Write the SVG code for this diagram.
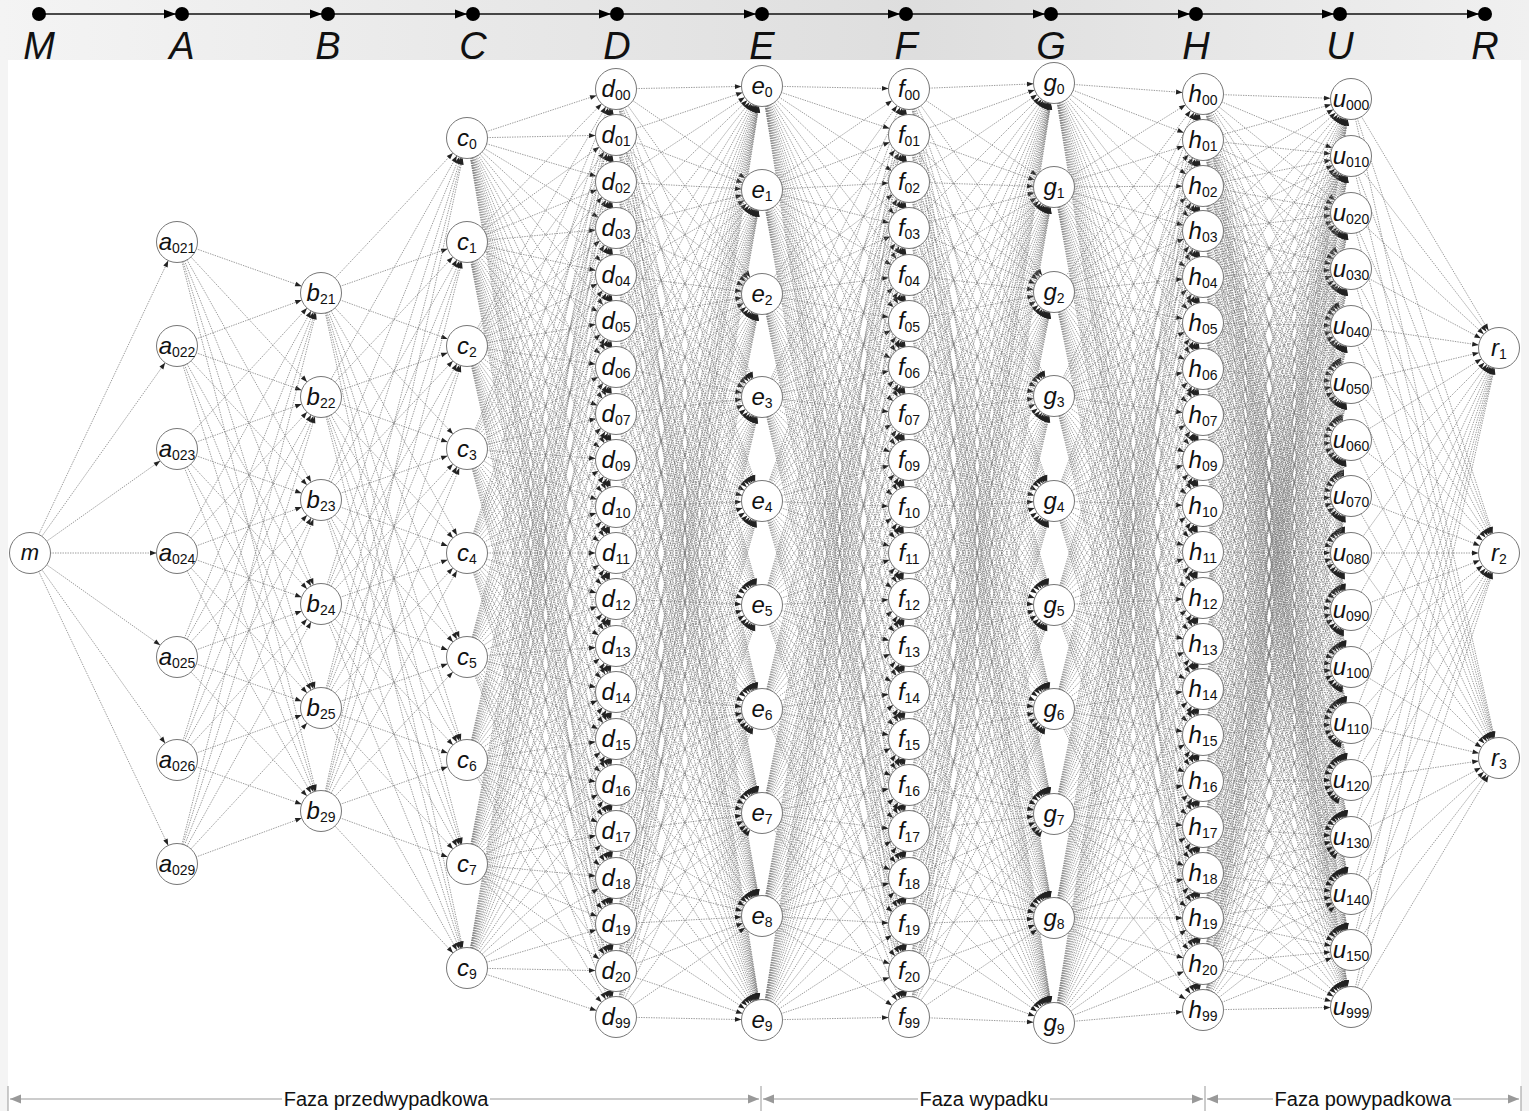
<svg xmlns="http://www.w3.org/2000/svg" width="1529" height="1111" viewBox="0 0 1529 1111">
<style>
.e path{fill:none;stroke:#7a7a7a;stroke-width:0.75;stroke-dasharray:1.4 1.1;marker-end:url(#ah)}
.n circle{fill:#fff;stroke:#777;stroke-width:1}
.n text{font-family:"Liberation Sans",Arial,sans-serif;font-size:24px;font-style:italic;text-anchor:middle;fill:#111}
.n tspan.s{font-style:normal;font-size:14px}
.tl text{font-family:"Liberation Sans",Arial,sans-serif;font-size:38px;font-style:italic;text-anchor:middle;fill:#111}
.ph text{font-family:"Liberation Sans",Arial,sans-serif;font-size:20px;text-anchor:middle;fill:#111}
</style>
<defs>
<linearGradient id="hg" x1="0" y1="0" x2="1" y2="0">
<stop offset="0" stop-color="#f4f4f4"/>
<stop offset="0.6" stop-color="#dedede"/>
<stop offset="1" stop-color="#f0f0f0"/>
</linearGradient>
<marker id="ah" markerUnits="userSpaceOnUse" markerWidth="2" markerHeight="2" orient="auto" overflow="visible" refX="0" refY="0">
<path d="M-27 -2.4L-20.5 0L-27 2.4z" fill="#222"/>
</marker>
<marker id="pa" markerUnits="userSpaceOnUse" markerWidth="2" markerHeight="2" orient="auto-start-reverse" overflow="visible" refX="0" refY="0">
<path d="M-11 -4.5L0 0L-11 4.5z" fill="#999"/>
</marker>
</defs>
<rect width="1529" height="1111" fill="#f4f4f4"/>
<rect x="0" y="0" width="1529" height="60" fill="url(#hg)"/>
<rect x="8" y="60" width="1513" height="1051" fill="#fff"/>
<g id="timeline" class="tl">
<line x1="39" y1="14" x2="1485" y2="14" stroke="#111" stroke-width="1.6"/>
<g fill="#000">
<circle cx="39" cy="14" r="7"/><circle cx="182" cy="14" r="7"/><circle cx="328" cy="14" r="7"/><circle cx="473" cy="14" r="7"/><circle cx="617" cy="14" r="7"/><circle cx="762" cy="14" r="7"/><circle cx="906" cy="14" r="7"/><circle cx="1051" cy="14" r="7"/><circle cx="1196" cy="14" r="7"/><circle cx="1340" cy="14" r="7"/><circle cx="1485" cy="14" r="7"/>
<polygon points="176,14 164,9.5 164,18.5"/><polygon points="322,14 310,9.5 310,18.5"/><polygon points="467,14 455,9.5 455,18.5"/><polygon points="611,14 599,9.5 599,18.5"/><polygon points="756,14 744,9.5 744,18.5"/><polygon points="900,14 888,9.5 888,18.5"/><polygon points="1045,14 1033,9.5 1033,18.5"/><polygon points="1190,14 1178,9.5 1178,18.5"/><polygon points="1334,14 1322,9.5 1322,18.5"/><polygon points="1479,14 1467,9.5 1467,18.5"/>
</g>
<text x="39" y="59">M</text><text x="182" y="59">A</text><text x="328" y="59">B</text><text x="473" y="59">C</text><text x="617" y="59">D</text><text x="762" y="59">E</text><text x="906" y="59">F</text><text x="1051" y="59">G</text><text x="1196" y="59">H</text><text x="1340" y="59">U</text><text x="1485" y="59">R</text>
</g>
<g id="phases" class="ph">
<g stroke="#999" stroke-width="1">
<line x1="8" y1="1086" x2="8" y2="1111"/><line x1="761" y1="1086" x2="761" y2="1111"/><line x1="1205" y1="1086" x2="1205" y2="1111"/><line x1="1521" y1="1086" x2="1521" y2="1111"/>
<path d="M10 1099H759" marker-start="url(#pa)" marker-end="url(#pa)"/>
<path d="M763 1099H1203" marker-start="url(#pa)" marker-end="url(#pa)"/>
<path d="M1207 1099H1519" marker-start="url(#pa)" marker-end="url(#pa)"/>
</g>
<rect x="282" y="1088" width="208" height="22" fill="#fff"/>
<rect x="918" y="1088" width="132" height="22" fill="#fff"/>
<rect x="1273" y="1088" width="180" height="22" fill="#fff"/>
<text x="386" y="1106">Faza przedwypadkowa</text>
<text x="984" y="1106">Faza wypadku</text>
<text x="1363" y="1106">Faza powypadkowa</text>
</g>
<g id="connectors" class="e">
<path d="M30 553L177 242"/><path d="M30 553L177 346"/><path d="M30 553L177 449"/><path d="M30 553L177 553"/><path d="M30 553L177 657"/><path d="M30 553L177 760"/><path d="M30 553L177 864"/>
<path d="M177 242L321 293"/><path d="M177 242L321 397"/><path d="M177 242L321 500"/><path d="M177 242L321 604"/><path d="M177 242L321 708"/><path d="M177 242L321 811"/>
<path d="M177 346L321 293"/><path d="M177 346L321 397"/><path d="M177 346L321 500"/><path d="M177 346L321 604"/><path d="M177 346L321 708"/><path d="M177 346L321 811"/>
<path d="M177 449L321 293"/><path d="M177 449L321 397"/><path d="M177 449L321 500"/><path d="M177 449L321 604"/><path d="M177 449L321 708"/><path d="M177 449L321 811"/>
<path d="M177 553L321 293"/><path d="M177 553L321 397"/><path d="M177 553L321 500"/><path d="M177 553L321 604"/><path d="M177 553L321 708"/><path d="M177 553L321 811"/>
<path d="M177 657L321 293"/><path d="M177 657L321 397"/><path d="M177 657L321 500"/><path d="M177 657L321 604"/><path d="M177 657L321 708"/><path d="M177 657L321 811"/>
<path d="M177 760L321 293"/><path d="M177 760L321 397"/><path d="M177 760L321 500"/><path d="M177 760L321 604"/><path d="M177 760L321 708"/><path d="M177 760L321 811"/>
<path d="M177 864L321 293"/><path d="M177 864L321 397"/><path d="M177 864L321 500"/><path d="M177 864L321 604"/><path d="M177 864L321 708"/><path d="M177 864L321 811"/>
<path d="M321 293L467 138"/><path d="M321 293L467 242"/><path d="M321 293L467 346"/><path d="M321 293L467 449"/><path d="M321 293L467 553"/><path d="M321 293L467 657"/><path d="M321 293L467 760"/><path d="M321 293L467 864"/><path d="M321 293L467 968"/>
<path d="M321 397L467 138"/><path d="M321 397L467 242"/><path d="M321 397L467 346"/><path d="M321 397L467 449"/><path d="M321 397L467 553"/><path d="M321 397L467 657"/><path d="M321 397L467 760"/><path d="M321 397L467 864"/><path d="M321 397L467 968"/>
<path d="M321 500L467 138"/><path d="M321 500L467 242"/><path d="M321 500L467 346"/><path d="M321 500L467 449"/><path d="M321 500L467 553"/><path d="M321 500L467 657"/><path d="M321 500L467 760"/><path d="M321 500L467 864"/><path d="M321 500L467 968"/>
<path d="M321 604L467 138"/><path d="M321 604L467 242"/><path d="M321 604L467 346"/><path d="M321 604L467 449"/><path d="M321 604L467 553"/><path d="M321 604L467 657"/><path d="M321 604L467 760"/><path d="M321 604L467 864"/><path d="M321 604L467 968"/>
<path d="M321 708L467 138"/><path d="M321 708L467 242"/><path d="M321 708L467 346"/><path d="M321 708L467 449"/><path d="M321 708L467 553"/><path d="M321 708L467 657"/><path d="M321 708L467 760"/><path d="M321 708L467 864"/><path d="M321 708L467 968"/>
<path d="M321 811L467 138"/><path d="M321 811L467 242"/><path d="M321 811L467 346"/><path d="M321 811L467 449"/><path d="M321 811L467 553"/><path d="M321 811L467 657"/><path d="M321 811L467 760"/><path d="M321 811L467 864"/><path d="M321 811L467 968"/>
<path d="M467 138L616 89"/><path d="M467 138L616 135"/><path d="M467 138L616 182"/><path d="M467 138L616 228"/><path d="M467 138L616 275"/><path d="M467 138L616 321"/><path d="M467 138L616 367"/><path d="M467 138L616 414"/><path d="M467 138L616 460"/><path d="M467 138L616 507"/><path d="M467 138L616 553"/><path d="M467 138L616 599"/><path d="M467 138L616 646"/><path d="M467 138L616 692"/><path d="M467 138L616 739"/><path d="M467 138L616 785"/><path d="M467 138L616 831"/><path d="M467 138L616 878"/><path d="M467 138L616 924"/><path d="M467 138L616 971"/><path d="M467 138L616 1017"/>
<path d="M467 242L616 89"/><path d="M467 242L616 135"/><path d="M467 242L616 182"/><path d="M467 242L616 228"/><path d="M467 242L616 275"/><path d="M467 242L616 321"/><path d="M467 242L616 367"/><path d="M467 242L616 414"/><path d="M467 242L616 460"/><path d="M467 242L616 507"/><path d="M467 242L616 553"/><path d="M467 242L616 599"/><path d="M467 242L616 646"/><path d="M467 242L616 692"/><path d="M467 242L616 739"/><path d="M467 242L616 785"/><path d="M467 242L616 831"/><path d="M467 242L616 878"/><path d="M467 242L616 924"/><path d="M467 242L616 971"/><path d="M467 242L616 1017"/>
<path d="M467 346L616 89"/><path d="M467 346L616 135"/><path d="M467 346L616 182"/><path d="M467 346L616 228"/><path d="M467 346L616 275"/><path d="M467 346L616 321"/><path d="M467 346L616 367"/><path d="M467 346L616 414"/><path d="M467 346L616 460"/><path d="M467 346L616 507"/><path d="M467 346L616 553"/><path d="M467 346L616 599"/><path d="M467 346L616 646"/><path d="M467 346L616 692"/><path d="M467 346L616 739"/><path d="M467 346L616 785"/><path d="M467 346L616 831"/><path d="M467 346L616 878"/><path d="M467 346L616 924"/><path d="M467 346L616 971"/><path d="M467 346L616 1017"/>
<path d="M467 449L616 89"/><path d="M467 449L616 135"/><path d="M467 449L616 182"/><path d="M467 449L616 228"/><path d="M467 449L616 275"/><path d="M467 449L616 321"/><path d="M467 449L616 367"/><path d="M467 449L616 414"/><path d="M467 449L616 460"/><path d="M467 449L616 507"/><path d="M467 449L616 553"/><path d="M467 449L616 599"/><path d="M467 449L616 646"/><path d="M467 449L616 692"/><path d="M467 449L616 739"/><path d="M467 449L616 785"/><path d="M467 449L616 831"/><path d="M467 449L616 878"/><path d="M467 449L616 924"/><path d="M467 449L616 971"/><path d="M467 449L616 1017"/>
<path d="M467 553L616 89"/><path d="M467 553L616 135"/><path d="M467 553L616 182"/><path d="M467 553L616 228"/><path d="M467 553L616 275"/><path d="M467 553L616 321"/><path d="M467 553L616 367"/><path d="M467 553L616 414"/><path d="M467 553L616 460"/><path d="M467 553L616 507"/><path d="M467 553L616 553"/><path d="M467 553L616 599"/><path d="M467 553L616 646"/><path d="M467 553L616 692"/><path d="M467 553L616 739"/><path d="M467 553L616 785"/><path d="M467 553L616 831"/><path d="M467 553L616 878"/><path d="M467 553L616 924"/><path d="M467 553L616 971"/><path d="M467 553L616 1017"/>
<path d="M467 657L616 89"/><path d="M467 657L616 135"/><path d="M467 657L616 182"/><path d="M467 657L616 228"/><path d="M467 657L616 275"/><path d="M467 657L616 321"/><path d="M467 657L616 367"/><path d="M467 657L616 414"/><path d="M467 657L616 460"/><path d="M467 657L616 507"/><path d="M467 657L616 553"/><path d="M467 657L616 599"/><path d="M467 657L616 646"/><path d="M467 657L616 692"/><path d="M467 657L616 739"/><path d="M467 657L616 785"/><path d="M467 657L616 831"/><path d="M467 657L616 878"/><path d="M467 657L616 924"/><path d="M467 657L616 971"/><path d="M467 657L616 1017"/>
<path d="M467 760L616 89"/><path d="M467 760L616 135"/><path d="M467 760L616 182"/><path d="M467 760L616 228"/><path d="M467 760L616 275"/><path d="M467 760L616 321"/><path d="M467 760L616 367"/><path d="M467 760L616 414"/><path d="M467 760L616 460"/><path d="M467 760L616 507"/><path d="M467 760L616 553"/><path d="M467 760L616 599"/><path d="M467 760L616 646"/><path d="M467 760L616 692"/><path d="M467 760L616 739"/><path d="M467 760L616 785"/><path d="M467 760L616 831"/><path d="M467 760L616 878"/><path d="M467 760L616 924"/><path d="M467 760L616 971"/><path d="M467 760L616 1017"/>
<path d="M467 864L616 89"/><path d="M467 864L616 135"/><path d="M467 864L616 182"/><path d="M467 864L616 228"/><path d="M467 864L616 275"/><path d="M467 864L616 321"/><path d="M467 864L616 367"/><path d="M467 864L616 414"/><path d="M467 864L616 460"/><path d="M467 864L616 507"/><path d="M467 864L616 553"/><path d="M467 864L616 599"/><path d="M467 864L616 646"/><path d="M467 864L616 692"/><path d="M467 864L616 739"/><path d="M467 864L616 785"/><path d="M467 864L616 831"/><path d="M467 864L616 878"/><path d="M467 864L616 924"/><path d="M467 864L616 971"/><path d="M467 864L616 1017"/>
<path d="M467 968L616 89"/><path d="M467 968L616 135"/><path d="M467 968L616 182"/><path d="M467 968L616 228"/><path d="M467 968L616 275"/><path d="M467 968L616 321"/><path d="M467 968L616 367"/><path d="M467 968L616 414"/><path d="M467 968L616 460"/><path d="M467 968L616 507"/><path d="M467 968L616 553"/><path d="M467 968L616 599"/><path d="M467 968L616 646"/><path d="M467 968L616 692"/><path d="M467 968L616 739"/><path d="M467 968L616 785"/><path d="M467 968L616 831"/><path d="M467 968L616 878"/><path d="M467 968L616 924"/><path d="M467 968L616 971"/><path d="M467 968L616 1017"/>
<path d="M616 89L762 86"/><path d="M616 89L762 190"/><path d="M616 89L762 294"/><path d="M616 89L762 397"/><path d="M616 89L762 501"/><path d="M616 89L762 605"/><path d="M616 89L762 709"/><path d="M616 89L762 813"/><path d="M616 89L762 916"/><path d="M616 89L762 1020"/>
<path d="M616 135L762 86"/><path d="M616 135L762 190"/><path d="M616 135L762 294"/><path d="M616 135L762 397"/><path d="M616 135L762 501"/><path d="M616 135L762 605"/><path d="M616 135L762 709"/><path d="M616 135L762 813"/><path d="M616 135L762 916"/><path d="M616 135L762 1020"/>
<path d="M616 182L762 86"/><path d="M616 182L762 190"/><path d="M616 182L762 294"/><path d="M616 182L762 397"/><path d="M616 182L762 501"/><path d="M616 182L762 605"/><path d="M616 182L762 709"/><path d="M616 182L762 813"/><path d="M616 182L762 916"/><path d="M616 182L762 1020"/>
<path d="M616 228L762 86"/><path d="M616 228L762 190"/><path d="M616 228L762 294"/><path d="M616 228L762 397"/><path d="M616 228L762 501"/><path d="M616 228L762 605"/><path d="M616 228L762 709"/><path d="M616 228L762 813"/><path d="M616 228L762 916"/><path d="M616 228L762 1020"/>
<path d="M616 275L762 86"/><path d="M616 275L762 190"/><path d="M616 275L762 294"/><path d="M616 275L762 397"/><path d="M616 275L762 501"/><path d="M616 275L762 605"/><path d="M616 275L762 709"/><path d="M616 275L762 813"/><path d="M616 275L762 916"/><path d="M616 275L762 1020"/>
<path d="M616 321L762 86"/><path d="M616 321L762 190"/><path d="M616 321L762 294"/><path d="M616 321L762 397"/><path d="M616 321L762 501"/><path d="M616 321L762 605"/><path d="M616 321L762 709"/><path d="M616 321L762 813"/><path d="M616 321L762 916"/><path d="M616 321L762 1020"/>
<path d="M616 367L762 86"/><path d="M616 367L762 190"/><path d="M616 367L762 294"/><path d="M616 367L762 397"/><path d="M616 367L762 501"/><path d="M616 367L762 605"/><path d="M616 367L762 709"/><path d="M616 367L762 813"/><path d="M616 367L762 916"/><path d="M616 367L762 1020"/>
<path d="M616 414L762 86"/><path d="M616 414L762 190"/><path d="M616 414L762 294"/><path d="M616 414L762 397"/><path d="M616 414L762 501"/><path d="M616 414L762 605"/><path d="M616 414L762 709"/><path d="M616 414L762 813"/><path d="M616 414L762 916"/><path d="M616 414L762 1020"/>
<path d="M616 460L762 86"/><path d="M616 460L762 190"/><path d="M616 460L762 294"/><path d="M616 460L762 397"/><path d="M616 460L762 501"/><path d="M616 460L762 605"/><path d="M616 460L762 709"/><path d="M616 460L762 813"/><path d="M616 460L762 916"/><path d="M616 460L762 1020"/>
<path d="M616 507L762 86"/><path d="M616 507L762 190"/><path d="M616 507L762 294"/><path d="M616 507L762 397"/><path d="M616 507L762 501"/><path d="M616 507L762 605"/><path d="M616 507L762 709"/><path d="M616 507L762 813"/><path d="M616 507L762 916"/><path d="M616 507L762 1020"/>
<path d="M616 553L762 86"/><path d="M616 553L762 190"/><path d="M616 553L762 294"/><path d="M616 553L762 397"/><path d="M616 553L762 501"/><path d="M616 553L762 605"/><path d="M616 553L762 709"/><path d="M616 553L762 813"/><path d="M616 553L762 916"/><path d="M616 553L762 1020"/>
<path d="M616 599L762 86"/><path d="M616 599L762 190"/><path d="M616 599L762 294"/><path d="M616 599L762 397"/><path d="M616 599L762 501"/><path d="M616 599L762 605"/><path d="M616 599L762 709"/><path d="M616 599L762 813"/><path d="M616 599L762 916"/><path d="M616 599L762 1020"/>
<path d="M616 646L762 86"/><path d="M616 646L762 190"/><path d="M616 646L762 294"/><path d="M616 646L762 397"/><path d="M616 646L762 501"/><path d="M616 646L762 605"/><path d="M616 646L762 709"/><path d="M616 646L762 813"/><path d="M616 646L762 916"/><path d="M616 646L762 1020"/>
<path d="M616 692L762 86"/><path d="M616 692L762 190"/><path d="M616 692L762 294"/><path d="M616 692L762 397"/><path d="M616 692L762 501"/><path d="M616 692L762 605"/><path d="M616 692L762 709"/><path d="M616 692L762 813"/><path d="M616 692L762 916"/><path d="M616 692L762 1020"/>
<path d="M616 739L762 86"/><path d="M616 739L762 190"/><path d="M616 739L762 294"/><path d="M616 739L762 397"/><path d="M616 739L762 501"/><path d="M616 739L762 605"/><path d="M616 739L762 709"/><path d="M616 739L762 813"/><path d="M616 739L762 916"/><path d="M616 739L762 1020"/>
<path d="M616 785L762 86"/><path d="M616 785L762 190"/><path d="M616 785L762 294"/><path d="M616 785L762 397"/><path d="M616 785L762 501"/><path d="M616 785L762 605"/><path d="M616 785L762 709"/><path d="M616 785L762 813"/><path d="M616 785L762 916"/><path d="M616 785L762 1020"/>
<path d="M616 831L762 86"/><path d="M616 831L762 190"/><path d="M616 831L762 294"/><path d="M616 831L762 397"/><path d="M616 831L762 501"/><path d="M616 831L762 605"/><path d="M616 831L762 709"/><path d="M616 831L762 813"/><path d="M616 831L762 916"/><path d="M616 831L762 1020"/>
<path d="M616 878L762 86"/><path d="M616 878L762 190"/><path d="M616 878L762 294"/><path d="M616 878L762 397"/><path d="M616 878L762 501"/><path d="M616 878L762 605"/><path d="M616 878L762 709"/><path d="M616 878L762 813"/><path d="M616 878L762 916"/><path d="M616 878L762 1020"/>
<path d="M616 924L762 86"/><path d="M616 924L762 190"/><path d="M616 924L762 294"/><path d="M616 924L762 397"/><path d="M616 924L762 501"/><path d="M616 924L762 605"/><path d="M616 924L762 709"/><path d="M616 924L762 813"/><path d="M616 924L762 916"/><path d="M616 924L762 1020"/>
<path d="M616 971L762 86"/><path d="M616 971L762 190"/><path d="M616 971L762 294"/><path d="M616 971L762 397"/><path d="M616 971L762 501"/><path d="M616 971L762 605"/><path d="M616 971L762 709"/><path d="M616 971L762 813"/><path d="M616 971L762 916"/><path d="M616 971L762 1020"/>
<path d="M616 1017L762 86"/><path d="M616 1017L762 190"/><path d="M616 1017L762 294"/><path d="M616 1017L762 397"/><path d="M616 1017L762 501"/><path d="M616 1017L762 605"/><path d="M616 1017L762 709"/><path d="M616 1017L762 813"/><path d="M616 1017L762 916"/><path d="M616 1017L762 1020"/>
<path d="M762 86L909 89"/><path d="M762 86L909 135"/><path d="M762 86L909 182"/><path d="M762 86L909 228"/><path d="M762 86L909 275"/><path d="M762 86L909 321"/><path d="M762 86L909 367"/><path d="M762 86L909 414"/><path d="M762 86L909 460"/><path d="M762 86L909 507"/><path d="M762 86L909 553"/><path d="M762 86L909 599"/><path d="M762 86L909 646"/><path d="M762 86L909 692"/><path d="M762 86L909 739"/><path d="M762 86L909 785"/><path d="M762 86L909 831"/><path d="M762 86L909 878"/><path d="M762 86L909 924"/><path d="M762 86L909 971"/><path d="M762 86L909 1017"/>
<path d="M762 190L909 89"/><path d="M762 190L909 135"/><path d="M762 190L909 182"/><path d="M762 190L909 228"/><path d="M762 190L909 275"/><path d="M762 190L909 321"/><path d="M762 190L909 367"/><path d="M762 190L909 414"/><path d="M762 190L909 460"/><path d="M762 190L909 507"/><path d="M762 190L909 553"/><path d="M762 190L909 599"/><path d="M762 190L909 646"/><path d="M762 190L909 692"/><path d="M762 190L909 739"/><path d="M762 190L909 785"/><path d="M762 190L909 831"/><path d="M762 190L909 878"/><path d="M762 190L909 924"/><path d="M762 190L909 971"/><path d="M762 190L909 1017"/>
<path d="M762 294L909 89"/><path d="M762 294L909 135"/><path d="M762 294L909 182"/><path d="M762 294L909 228"/><path d="M762 294L909 275"/><path d="M762 294L909 321"/><path d="M762 294L909 367"/><path d="M762 294L909 414"/><path d="M762 294L909 460"/><path d="M762 294L909 507"/><path d="M762 294L909 553"/><path d="M762 294L909 599"/><path d="M762 294L909 646"/><path d="M762 294L909 692"/><path d="M762 294L909 739"/><path d="M762 294L909 785"/><path d="M762 294L909 831"/><path d="M762 294L909 878"/><path d="M762 294L909 924"/><path d="M762 294L909 971"/><path d="M762 294L909 1017"/>
<path d="M762 397L909 89"/><path d="M762 397L909 135"/><path d="M762 397L909 182"/><path d="M762 397L909 228"/><path d="M762 397L909 275"/><path d="M762 397L909 321"/><path d="M762 397L909 367"/><path d="M762 397L909 414"/><path d="M762 397L909 460"/><path d="M762 397L909 507"/><path d="M762 397L909 553"/><path d="M762 397L909 599"/><path d="M762 397L909 646"/><path d="M762 397L909 692"/><path d="M762 397L909 739"/><path d="M762 397L909 785"/><path d="M762 397L909 831"/><path d="M762 397L909 878"/><path d="M762 397L909 924"/><path d="M762 397L909 971"/><path d="M762 397L909 1017"/>
<path d="M762 501L909 89"/><path d="M762 501L909 135"/><path d="M762 501L909 182"/><path d="M762 501L909 228"/><path d="M762 501L909 275"/><path d="M762 501L909 321"/><path d="M762 501L909 367"/><path d="M762 501L909 414"/><path d="M762 501L909 460"/><path d="M762 501L909 507"/><path d="M762 501L909 553"/><path d="M762 501L909 599"/><path d="M762 501L909 646"/><path d="M762 501L909 692"/><path d="M762 501L909 739"/><path d="M762 501L909 785"/><path d="M762 501L909 831"/><path d="M762 501L909 878"/><path d="M762 501L909 924"/><path d="M762 501L909 971"/><path d="M762 501L909 1017"/>
<path d="M762 605L909 89"/><path d="M762 605L909 135"/><path d="M762 605L909 182"/><path d="M762 605L909 228"/><path d="M762 605L909 275"/><path d="M762 605L909 321"/><path d="M762 605L909 367"/><path d="M762 605L909 414"/><path d="M762 605L909 460"/><path d="M762 605L909 507"/><path d="M762 605L909 553"/><path d="M762 605L909 599"/><path d="M762 605L909 646"/><path d="M762 605L909 692"/><path d="M762 605L909 739"/><path d="M762 605L909 785"/><path d="M762 605L909 831"/><path d="M762 605L909 878"/><path d="M762 605L909 924"/><path d="M762 605L909 971"/><path d="M762 605L909 1017"/>
<path d="M762 709L909 89"/><path d="M762 709L909 135"/><path d="M762 709L909 182"/><path d="M762 709L909 228"/><path d="M762 709L909 275"/><path d="M762 709L909 321"/><path d="M762 709L909 367"/><path d="M762 709L909 414"/><path d="M762 709L909 460"/><path d="M762 709L909 507"/><path d="M762 709L909 553"/><path d="M762 709L909 599"/><path d="M762 709L909 646"/><path d="M762 709L909 692"/><path d="M762 709L909 739"/><path d="M762 709L909 785"/><path d="M762 709L909 831"/><path d="M762 709L909 878"/><path d="M762 709L909 924"/><path d="M762 709L909 971"/><path d="M762 709L909 1017"/>
<path d="M762 813L909 89"/><path d="M762 813L909 135"/><path d="M762 813L909 182"/><path d="M762 813L909 228"/><path d="M762 813L909 275"/><path d="M762 813L909 321"/><path d="M762 813L909 367"/><path d="M762 813L909 414"/><path d="M762 813L909 460"/><path d="M762 813L909 507"/><path d="M762 813L909 553"/><path d="M762 813L909 599"/><path d="M762 813L909 646"/><path d="M762 813L909 692"/><path d="M762 813L909 739"/><path d="M762 813L909 785"/><path d="M762 813L909 831"/><path d="M762 813L909 878"/><path d="M762 813L909 924"/><path d="M762 813L909 971"/><path d="M762 813L909 1017"/>
<path d="M762 916L909 89"/><path d="M762 916L909 135"/><path d="M762 916L909 182"/><path d="M762 916L909 228"/><path d="M762 916L909 275"/><path d="M762 916L909 321"/><path d="M762 916L909 367"/><path d="M762 916L909 414"/><path d="M762 916L909 460"/><path d="M762 916L909 507"/><path d="M762 916L909 553"/><path d="M762 916L909 599"/><path d="M762 916L909 646"/><path d="M762 916L909 692"/><path d="M762 916L909 739"/><path d="M762 916L909 785"/><path d="M762 916L909 831"/><path d="M762 916L909 878"/><path d="M762 916L909 924"/><path d="M762 916L909 971"/><path d="M762 916L909 1017"/>
<path d="M762 1020L909 89"/><path d="M762 1020L909 135"/><path d="M762 1020L909 182"/><path d="M762 1020L909 228"/><path d="M762 1020L909 275"/><path d="M762 1020L909 321"/><path d="M762 1020L909 367"/><path d="M762 1020L909 414"/><path d="M762 1020L909 460"/><path d="M762 1020L909 507"/><path d="M762 1020L909 553"/><path d="M762 1020L909 599"/><path d="M762 1020L909 646"/><path d="M762 1020L909 692"/><path d="M762 1020L909 739"/><path d="M762 1020L909 785"/><path d="M762 1020L909 831"/><path d="M762 1020L909 878"/><path d="M762 1020L909 924"/><path d="M762 1020L909 971"/><path d="M762 1020L909 1017"/>
<path d="M909 89L1054 83"/><path d="M909 89L1054 187"/><path d="M909 89L1054 292"/><path d="M909 89L1054 396"/><path d="M909 89L1054 501"/><path d="M909 89L1054 605"/><path d="M909 89L1054 709"/><path d="M909 89L1054 814"/><path d="M909 89L1054 918"/><path d="M909 89L1054 1023"/>
<path d="M909 135L1054 83"/><path d="M909 135L1054 187"/><path d="M909 135L1054 292"/><path d="M909 135L1054 396"/><path d="M909 135L1054 501"/><path d="M909 135L1054 605"/><path d="M909 135L1054 709"/><path d="M909 135L1054 814"/><path d="M909 135L1054 918"/><path d="M909 135L1054 1023"/>
<path d="M909 182L1054 83"/><path d="M909 182L1054 187"/><path d="M909 182L1054 292"/><path d="M909 182L1054 396"/><path d="M909 182L1054 501"/><path d="M909 182L1054 605"/><path d="M909 182L1054 709"/><path d="M909 182L1054 814"/><path d="M909 182L1054 918"/><path d="M909 182L1054 1023"/>
<path d="M909 228L1054 83"/><path d="M909 228L1054 187"/><path d="M909 228L1054 292"/><path d="M909 228L1054 396"/><path d="M909 228L1054 501"/><path d="M909 228L1054 605"/><path d="M909 228L1054 709"/><path d="M909 228L1054 814"/><path d="M909 228L1054 918"/><path d="M909 228L1054 1023"/>
<path d="M909 275L1054 83"/><path d="M909 275L1054 187"/><path d="M909 275L1054 292"/><path d="M909 275L1054 396"/><path d="M909 275L1054 501"/><path d="M909 275L1054 605"/><path d="M909 275L1054 709"/><path d="M909 275L1054 814"/><path d="M909 275L1054 918"/><path d="M909 275L1054 1023"/>
<path d="M909 321L1054 83"/><path d="M909 321L1054 187"/><path d="M909 321L1054 292"/><path d="M909 321L1054 396"/><path d="M909 321L1054 501"/><path d="M909 321L1054 605"/><path d="M909 321L1054 709"/><path d="M909 321L1054 814"/><path d="M909 321L1054 918"/><path d="M909 321L1054 1023"/>
<path d="M909 367L1054 83"/><path d="M909 367L1054 187"/><path d="M909 367L1054 292"/><path d="M909 367L1054 396"/><path d="M909 367L1054 501"/><path d="M909 367L1054 605"/><path d="M909 367L1054 709"/><path d="M909 367L1054 814"/><path d="M909 367L1054 918"/><path d="M909 367L1054 1023"/>
<path d="M909 414L1054 83"/><path d="M909 414L1054 187"/><path d="M909 414L1054 292"/><path d="M909 414L1054 396"/><path d="M909 414L1054 501"/><path d="M909 414L1054 605"/><path d="M909 414L1054 709"/><path d="M909 414L1054 814"/><path d="M909 414L1054 918"/><path d="M909 414L1054 1023"/>
<path d="M909 460L1054 83"/><path d="M909 460L1054 187"/><path d="M909 460L1054 292"/><path d="M909 460L1054 396"/><path d="M909 460L1054 501"/><path d="M909 460L1054 605"/><path d="M909 460L1054 709"/><path d="M909 460L1054 814"/><path d="M909 460L1054 918"/><path d="M909 460L1054 1023"/>
<path d="M909 507L1054 83"/><path d="M909 507L1054 187"/><path d="M909 507L1054 292"/><path d="M909 507L1054 396"/><path d="M909 507L1054 501"/><path d="M909 507L1054 605"/><path d="M909 507L1054 709"/><path d="M909 507L1054 814"/><path d="M909 507L1054 918"/><path d="M909 507L1054 1023"/>
<path d="M909 553L1054 83"/><path d="M909 553L1054 187"/><path d="M909 553L1054 292"/><path d="M909 553L1054 396"/><path d="M909 553L1054 501"/><path d="M909 553L1054 605"/><path d="M909 553L1054 709"/><path d="M909 553L1054 814"/><path d="M909 553L1054 918"/><path d="M909 553L1054 1023"/>
<path d="M909 599L1054 83"/><path d="M909 599L1054 187"/><path d="M909 599L1054 292"/><path d="M909 599L1054 396"/><path d="M909 599L1054 501"/><path d="M909 599L1054 605"/><path d="M909 599L1054 709"/><path d="M909 599L1054 814"/><path d="M909 599L1054 918"/><path d="M909 599L1054 1023"/>
<path d="M909 646L1054 83"/><path d="M909 646L1054 187"/><path d="M909 646L1054 292"/><path d="M909 646L1054 396"/><path d="M909 646L1054 501"/><path d="M909 646L1054 605"/><path d="M909 646L1054 709"/><path d="M909 646L1054 814"/><path d="M909 646L1054 918"/><path d="M909 646L1054 1023"/>
<path d="M909 692L1054 83"/><path d="M909 692L1054 187"/><path d="M909 692L1054 292"/><path d="M909 692L1054 396"/><path d="M909 692L1054 501"/><path d="M909 692L1054 605"/><path d="M909 692L1054 709"/><path d="M909 692L1054 814"/><path d="M909 692L1054 918"/><path d="M909 692L1054 1023"/>
<path d="M909 739L1054 83"/><path d="M909 739L1054 187"/><path d="M909 739L1054 292"/><path d="M909 739L1054 396"/><path d="M909 739L1054 501"/><path d="M909 739L1054 605"/><path d="M909 739L1054 709"/><path d="M909 739L1054 814"/><path d="M909 739L1054 918"/><path d="M909 739L1054 1023"/>
<path d="M909 785L1054 83"/><path d="M909 785L1054 187"/><path d="M909 785L1054 292"/><path d="M909 785L1054 396"/><path d="M909 785L1054 501"/><path d="M909 785L1054 605"/><path d="M909 785L1054 709"/><path d="M909 785L1054 814"/><path d="M909 785L1054 918"/><path d="M909 785L1054 1023"/>
<path d="M909 831L1054 83"/><path d="M909 831L1054 187"/><path d="M909 831L1054 292"/><path d="M909 831L1054 396"/><path d="M909 831L1054 501"/><path d="M909 831L1054 605"/><path d="M909 831L1054 709"/><path d="M909 831L1054 814"/><path d="M909 831L1054 918"/><path d="M909 831L1054 1023"/>
<path d="M909 878L1054 83"/><path d="M909 878L1054 187"/><path d="M909 878L1054 292"/><path d="M909 878L1054 396"/><path d="M909 878L1054 501"/><path d="M909 878L1054 605"/><path d="M909 878L1054 709"/><path d="M909 878L1054 814"/><path d="M909 878L1054 918"/><path d="M909 878L1054 1023"/>
<path d="M909 924L1054 83"/><path d="M909 924L1054 187"/><path d="M909 924L1054 292"/><path d="M909 924L1054 396"/><path d="M909 924L1054 501"/><path d="M909 924L1054 605"/><path d="M909 924L1054 709"/><path d="M909 924L1054 814"/><path d="M909 924L1054 918"/><path d="M909 924L1054 1023"/>
<path d="M909 971L1054 83"/><path d="M909 971L1054 187"/><path d="M909 971L1054 292"/><path d="M909 971L1054 396"/><path d="M909 971L1054 501"/><path d="M909 971L1054 605"/><path d="M909 971L1054 709"/><path d="M909 971L1054 814"/><path d="M909 971L1054 918"/><path d="M909 971L1054 1023"/>
<path d="M909 1017L1054 83"/><path d="M909 1017L1054 187"/><path d="M909 1017L1054 292"/><path d="M909 1017L1054 396"/><path d="M909 1017L1054 501"/><path d="M909 1017L1054 605"/><path d="M909 1017L1054 709"/><path d="M909 1017L1054 814"/><path d="M909 1017L1054 918"/><path d="M909 1017L1054 1023"/>
<path d="M1054 83L1203 94"/><path d="M1054 83L1203 140"/><path d="M1054 83L1203 186"/><path d="M1054 83L1203 231"/><path d="M1054 83L1203 277"/><path d="M1054 83L1203 323"/><path d="M1054 83L1203 369"/><path d="M1054 83L1203 415"/><path d="M1054 83L1203 460"/><path d="M1054 83L1203 506"/><path d="M1054 83L1203 552"/><path d="M1054 83L1203 598"/><path d="M1054 83L1203 644"/><path d="M1054 83L1203 689"/><path d="M1054 83L1203 735"/><path d="M1054 83L1203 781"/><path d="M1054 83L1203 827"/><path d="M1054 83L1203 873"/><path d="M1054 83L1203 918"/><path d="M1054 83L1203 964"/><path d="M1054 83L1203 1010"/>
<path d="M1054 187L1203 94"/><path d="M1054 187L1203 140"/><path d="M1054 187L1203 186"/><path d="M1054 187L1203 231"/><path d="M1054 187L1203 277"/><path d="M1054 187L1203 323"/><path d="M1054 187L1203 369"/><path d="M1054 187L1203 415"/><path d="M1054 187L1203 460"/><path d="M1054 187L1203 506"/><path d="M1054 187L1203 552"/><path d="M1054 187L1203 598"/><path d="M1054 187L1203 644"/><path d="M1054 187L1203 689"/><path d="M1054 187L1203 735"/><path d="M1054 187L1203 781"/><path d="M1054 187L1203 827"/><path d="M1054 187L1203 873"/><path d="M1054 187L1203 918"/><path d="M1054 187L1203 964"/><path d="M1054 187L1203 1010"/>
<path d="M1054 292L1203 94"/><path d="M1054 292L1203 140"/><path d="M1054 292L1203 186"/><path d="M1054 292L1203 231"/><path d="M1054 292L1203 277"/><path d="M1054 292L1203 323"/><path d="M1054 292L1203 369"/><path d="M1054 292L1203 415"/><path d="M1054 292L1203 460"/><path d="M1054 292L1203 506"/><path d="M1054 292L1203 552"/><path d="M1054 292L1203 598"/><path d="M1054 292L1203 644"/><path d="M1054 292L1203 689"/><path d="M1054 292L1203 735"/><path d="M1054 292L1203 781"/><path d="M1054 292L1203 827"/><path d="M1054 292L1203 873"/><path d="M1054 292L1203 918"/><path d="M1054 292L1203 964"/><path d="M1054 292L1203 1010"/>
<path d="M1054 396L1203 94"/><path d="M1054 396L1203 140"/><path d="M1054 396L1203 186"/><path d="M1054 396L1203 231"/><path d="M1054 396L1203 277"/><path d="M1054 396L1203 323"/><path d="M1054 396L1203 369"/><path d="M1054 396L1203 415"/><path d="M1054 396L1203 460"/><path d="M1054 396L1203 506"/><path d="M1054 396L1203 552"/><path d="M1054 396L1203 598"/><path d="M1054 396L1203 644"/><path d="M1054 396L1203 689"/><path d="M1054 396L1203 735"/><path d="M1054 396L1203 781"/><path d="M1054 396L1203 827"/><path d="M1054 396L1203 873"/><path d="M1054 396L1203 918"/><path d="M1054 396L1203 964"/><path d="M1054 396L1203 1010"/>
<path d="M1054 501L1203 94"/><path d="M1054 501L1203 140"/><path d="M1054 501L1203 186"/><path d="M1054 501L1203 231"/><path d="M1054 501L1203 277"/><path d="M1054 501L1203 323"/><path d="M1054 501L1203 369"/><path d="M1054 501L1203 415"/><path d="M1054 501L1203 460"/><path d="M1054 501L1203 506"/><path d="M1054 501L1203 552"/><path d="M1054 501L1203 598"/><path d="M1054 501L1203 644"/><path d="M1054 501L1203 689"/><path d="M1054 501L1203 735"/><path d="M1054 501L1203 781"/><path d="M1054 501L1203 827"/><path d="M1054 501L1203 873"/><path d="M1054 501L1203 918"/><path d="M1054 501L1203 964"/><path d="M1054 501L1203 1010"/>
<path d="M1054 605L1203 94"/><path d="M1054 605L1203 140"/><path d="M1054 605L1203 186"/><path d="M1054 605L1203 231"/><path d="M1054 605L1203 277"/><path d="M1054 605L1203 323"/><path d="M1054 605L1203 369"/><path d="M1054 605L1203 415"/><path d="M1054 605L1203 460"/><path d="M1054 605L1203 506"/><path d="M1054 605L1203 552"/><path d="M1054 605L1203 598"/><path d="M1054 605L1203 644"/><path d="M1054 605L1203 689"/><path d="M1054 605L1203 735"/><path d="M1054 605L1203 781"/><path d="M1054 605L1203 827"/><path d="M1054 605L1203 873"/><path d="M1054 605L1203 918"/><path d="M1054 605L1203 964"/><path d="M1054 605L1203 1010"/>
<path d="M1054 709L1203 94"/><path d="M1054 709L1203 140"/><path d="M1054 709L1203 186"/><path d="M1054 709L1203 231"/><path d="M1054 709L1203 277"/><path d="M1054 709L1203 323"/><path d="M1054 709L1203 369"/><path d="M1054 709L1203 415"/><path d="M1054 709L1203 460"/><path d="M1054 709L1203 506"/><path d="M1054 709L1203 552"/><path d="M1054 709L1203 598"/><path d="M1054 709L1203 644"/><path d="M1054 709L1203 689"/><path d="M1054 709L1203 735"/><path d="M1054 709L1203 781"/><path d="M1054 709L1203 827"/><path d="M1054 709L1203 873"/><path d="M1054 709L1203 918"/><path d="M1054 709L1203 964"/><path d="M1054 709L1203 1010"/>
<path d="M1054 814L1203 94"/><path d="M1054 814L1203 140"/><path d="M1054 814L1203 186"/><path d="M1054 814L1203 231"/><path d="M1054 814L1203 277"/><path d="M1054 814L1203 323"/><path d="M1054 814L1203 369"/><path d="M1054 814L1203 415"/><path d="M1054 814L1203 460"/><path d="M1054 814L1203 506"/><path d="M1054 814L1203 552"/><path d="M1054 814L1203 598"/><path d="M1054 814L1203 644"/><path d="M1054 814L1203 689"/><path d="M1054 814L1203 735"/><path d="M1054 814L1203 781"/><path d="M1054 814L1203 827"/><path d="M1054 814L1203 873"/><path d="M1054 814L1203 918"/><path d="M1054 814L1203 964"/><path d="M1054 814L1203 1010"/>
<path d="M1054 918L1203 94"/><path d="M1054 918L1203 140"/><path d="M1054 918L1203 186"/><path d="M1054 918L1203 231"/><path d="M1054 918L1203 277"/><path d="M1054 918L1203 323"/><path d="M1054 918L1203 369"/><path d="M1054 918L1203 415"/><path d="M1054 918L1203 460"/><path d="M1054 918L1203 506"/><path d="M1054 918L1203 552"/><path d="M1054 918L1203 598"/><path d="M1054 918L1203 644"/><path d="M1054 918L1203 689"/><path d="M1054 918L1203 735"/><path d="M1054 918L1203 781"/><path d="M1054 918L1203 827"/><path d="M1054 918L1203 873"/><path d="M1054 918L1203 918"/><path d="M1054 918L1203 964"/><path d="M1054 918L1203 1010"/>
<path d="M1054 1023L1203 94"/><path d="M1054 1023L1203 140"/><path d="M1054 1023L1203 186"/><path d="M1054 1023L1203 231"/><path d="M1054 1023L1203 277"/><path d="M1054 1023L1203 323"/><path d="M1054 1023L1203 369"/><path d="M1054 1023L1203 415"/><path d="M1054 1023L1203 460"/><path d="M1054 1023L1203 506"/><path d="M1054 1023L1203 552"/><path d="M1054 1023L1203 598"/><path d="M1054 1023L1203 644"/><path d="M1054 1023L1203 689"/><path d="M1054 1023L1203 735"/><path d="M1054 1023L1203 781"/><path d="M1054 1023L1203 827"/><path d="M1054 1023L1203 873"/><path d="M1054 1023L1203 918"/><path d="M1054 1023L1203 964"/><path d="M1054 1023L1203 1010"/>
<path d="M1203 94L1351 99"/><path d="M1203 94L1351 156"/><path d="M1203 94L1351 213"/><path d="M1203 94L1351 269"/><path d="M1203 94L1351 326"/><path d="M1203 94L1351 383"/><path d="M1203 94L1351 440"/><path d="M1203 94L1351 496"/><path d="M1203 94L1351 553"/><path d="M1203 94L1351 610"/><path d="M1203 94L1351 667"/><path d="M1203 94L1351 723"/><path d="M1203 94L1351 780"/><path d="M1203 94L1351 837"/><path d="M1203 94L1351 894"/><path d="M1203 94L1351 950"/><path d="M1203 94L1351 1007"/>
<path d="M1203 140L1351 99"/><path d="M1203 140L1351 156"/><path d="M1203 140L1351 213"/><path d="M1203 140L1351 269"/><path d="M1203 140L1351 326"/><path d="M1203 140L1351 383"/><path d="M1203 140L1351 440"/><path d="M1203 140L1351 496"/><path d="M1203 140L1351 553"/><path d="M1203 140L1351 610"/><path d="M1203 140L1351 667"/><path d="M1203 140L1351 723"/><path d="M1203 140L1351 780"/><path d="M1203 140L1351 837"/><path d="M1203 140L1351 894"/><path d="M1203 140L1351 950"/><path d="M1203 140L1351 1007"/>
<path d="M1203 186L1351 99"/><path d="M1203 186L1351 156"/><path d="M1203 186L1351 213"/><path d="M1203 186L1351 269"/><path d="M1203 186L1351 326"/><path d="M1203 186L1351 383"/><path d="M1203 186L1351 440"/><path d="M1203 186L1351 496"/><path d="M1203 186L1351 553"/><path d="M1203 186L1351 610"/><path d="M1203 186L1351 667"/><path d="M1203 186L1351 723"/><path d="M1203 186L1351 780"/><path d="M1203 186L1351 837"/><path d="M1203 186L1351 894"/><path d="M1203 186L1351 950"/><path d="M1203 186L1351 1007"/>
<path d="M1203 231L1351 99"/><path d="M1203 231L1351 156"/><path d="M1203 231L1351 213"/><path d="M1203 231L1351 269"/><path d="M1203 231L1351 326"/><path d="M1203 231L1351 383"/><path d="M1203 231L1351 440"/><path d="M1203 231L1351 496"/><path d="M1203 231L1351 553"/><path d="M1203 231L1351 610"/><path d="M1203 231L1351 667"/><path d="M1203 231L1351 723"/><path d="M1203 231L1351 780"/><path d="M1203 231L1351 837"/><path d="M1203 231L1351 894"/><path d="M1203 231L1351 950"/><path d="M1203 231L1351 1007"/>
<path d="M1203 277L1351 99"/><path d="M1203 277L1351 156"/><path d="M1203 277L1351 213"/><path d="M1203 277L1351 269"/><path d="M1203 277L1351 326"/><path d="M1203 277L1351 383"/><path d="M1203 277L1351 440"/><path d="M1203 277L1351 496"/><path d="M1203 277L1351 553"/><path d="M1203 277L1351 610"/><path d="M1203 277L1351 667"/><path d="M1203 277L1351 723"/><path d="M1203 277L1351 780"/><path d="M1203 277L1351 837"/><path d="M1203 277L1351 894"/><path d="M1203 277L1351 950"/><path d="M1203 277L1351 1007"/>
<path d="M1203 323L1351 99"/><path d="M1203 323L1351 156"/><path d="M1203 323L1351 213"/><path d="M1203 323L1351 269"/><path d="M1203 323L1351 326"/><path d="M1203 323L1351 383"/><path d="M1203 323L1351 440"/><path d="M1203 323L1351 496"/><path d="M1203 323L1351 553"/><path d="M1203 323L1351 610"/><path d="M1203 323L1351 667"/><path d="M1203 323L1351 723"/><path d="M1203 323L1351 780"/><path d="M1203 323L1351 837"/><path d="M1203 323L1351 894"/><path d="M1203 323L1351 950"/><path d="M1203 323L1351 1007"/>
<path d="M1203 369L1351 99"/><path d="M1203 369L1351 156"/><path d="M1203 369L1351 213"/><path d="M1203 369L1351 269"/><path d="M1203 369L1351 326"/><path d="M1203 369L1351 383"/><path d="M1203 369L1351 440"/><path d="M1203 369L1351 496"/><path d="M1203 369L1351 553"/><path d="M1203 369L1351 610"/><path d="M1203 369L1351 667"/><path d="M1203 369L1351 723"/><path d="M1203 369L1351 780"/><path d="M1203 369L1351 837"/><path d="M1203 369L1351 894"/><path d="M1203 369L1351 950"/><path d="M1203 369L1351 1007"/>
<path d="M1203 415L1351 99"/><path d="M1203 415L1351 156"/><path d="M1203 415L1351 213"/><path d="M1203 415L1351 269"/><path d="M1203 415L1351 326"/><path d="M1203 415L1351 383"/><path d="M1203 415L1351 440"/><path d="M1203 415L1351 496"/><path d="M1203 415L1351 553"/><path d="M1203 415L1351 610"/><path d="M1203 415L1351 667"/><path d="M1203 415L1351 723"/><path d="M1203 415L1351 780"/><path d="M1203 415L1351 837"/><path d="M1203 415L1351 894"/><path d="M1203 415L1351 950"/><path d="M1203 415L1351 1007"/>
<path d="M1203 460L1351 99"/><path d="M1203 460L1351 156"/><path d="M1203 460L1351 213"/><path d="M1203 460L1351 269"/><path d="M1203 460L1351 326"/><path d="M1203 460L1351 383"/><path d="M1203 460L1351 440"/><path d="M1203 460L1351 496"/><path d="M1203 460L1351 553"/><path d="M1203 460L1351 610"/><path d="M1203 460L1351 667"/><path d="M1203 460L1351 723"/><path d="M1203 460L1351 780"/><path d="M1203 460L1351 837"/><path d="M1203 460L1351 894"/><path d="M1203 460L1351 950"/><path d="M1203 460L1351 1007"/>
<path d="M1203 506L1351 99"/><path d="M1203 506L1351 156"/><path d="M1203 506L1351 213"/><path d="M1203 506L1351 269"/><path d="M1203 506L1351 326"/><path d="M1203 506L1351 383"/><path d="M1203 506L1351 440"/><path d="M1203 506L1351 496"/><path d="M1203 506L1351 553"/><path d="M1203 506L1351 610"/><path d="M1203 506L1351 667"/><path d="M1203 506L1351 723"/><path d="M1203 506L1351 780"/><path d="M1203 506L1351 837"/><path d="M1203 506L1351 894"/><path d="M1203 506L1351 950"/><path d="M1203 506L1351 1007"/>
<path d="M1203 552L1351 99"/><path d="M1203 552L1351 156"/><path d="M1203 552L1351 213"/><path d="M1203 552L1351 269"/><path d="M1203 552L1351 326"/><path d="M1203 552L1351 383"/><path d="M1203 552L1351 440"/><path d="M1203 552L1351 496"/><path d="M1203 552L1351 553"/><path d="M1203 552L1351 610"/><path d="M1203 552L1351 667"/><path d="M1203 552L1351 723"/><path d="M1203 552L1351 780"/><path d="M1203 552L1351 837"/><path d="M1203 552L1351 894"/><path d="M1203 552L1351 950"/><path d="M1203 552L1351 1007"/>
<path d="M1203 598L1351 99"/><path d="M1203 598L1351 156"/><path d="M1203 598L1351 213"/><path d="M1203 598L1351 269"/><path d="M1203 598L1351 326"/><path d="M1203 598L1351 383"/><path d="M1203 598L1351 440"/><path d="M1203 598L1351 496"/><path d="M1203 598L1351 553"/><path d="M1203 598L1351 610"/><path d="M1203 598L1351 667"/><path d="M1203 598L1351 723"/><path d="M1203 598L1351 780"/><path d="M1203 598L1351 837"/><path d="M1203 598L1351 894"/><path d="M1203 598L1351 950"/><path d="M1203 598L1351 1007"/>
<path d="M1203 644L1351 99"/><path d="M1203 644L1351 156"/><path d="M1203 644L1351 213"/><path d="M1203 644L1351 269"/><path d="M1203 644L1351 326"/><path d="M1203 644L1351 383"/><path d="M1203 644L1351 440"/><path d="M1203 644L1351 496"/><path d="M1203 644L1351 553"/><path d="M1203 644L1351 610"/><path d="M1203 644L1351 667"/><path d="M1203 644L1351 723"/><path d="M1203 644L1351 780"/><path d="M1203 644L1351 837"/><path d="M1203 644L1351 894"/><path d="M1203 644L1351 950"/><path d="M1203 644L1351 1007"/>
<path d="M1203 689L1351 99"/><path d="M1203 689L1351 156"/><path d="M1203 689L1351 213"/><path d="M1203 689L1351 269"/><path d="M1203 689L1351 326"/><path d="M1203 689L1351 383"/><path d="M1203 689L1351 440"/><path d="M1203 689L1351 496"/><path d="M1203 689L1351 553"/><path d="M1203 689L1351 610"/><path d="M1203 689L1351 667"/><path d="M1203 689L1351 723"/><path d="M1203 689L1351 780"/><path d="M1203 689L1351 837"/><path d="M1203 689L1351 894"/><path d="M1203 689L1351 950"/><path d="M1203 689L1351 1007"/>
<path d="M1203 735L1351 99"/><path d="M1203 735L1351 156"/><path d="M1203 735L1351 213"/><path d="M1203 735L1351 269"/><path d="M1203 735L1351 326"/><path d="M1203 735L1351 383"/><path d="M1203 735L1351 440"/><path d="M1203 735L1351 496"/><path d="M1203 735L1351 553"/><path d="M1203 735L1351 610"/><path d="M1203 735L1351 667"/><path d="M1203 735L1351 723"/><path d="M1203 735L1351 780"/><path d="M1203 735L1351 837"/><path d="M1203 735L1351 894"/><path d="M1203 735L1351 950"/><path d="M1203 735L1351 1007"/>
<path d="M1203 781L1351 99"/><path d="M1203 781L1351 156"/><path d="M1203 781L1351 213"/><path d="M1203 781L1351 269"/><path d="M1203 781L1351 326"/><path d="M1203 781L1351 383"/><path d="M1203 781L1351 440"/><path d="M1203 781L1351 496"/><path d="M1203 781L1351 553"/><path d="M1203 781L1351 610"/><path d="M1203 781L1351 667"/><path d="M1203 781L1351 723"/><path d="M1203 781L1351 780"/><path d="M1203 781L1351 837"/><path d="M1203 781L1351 894"/><path d="M1203 781L1351 950"/><path d="M1203 781L1351 1007"/>
<path d="M1203 827L1351 99"/><path d="M1203 827L1351 156"/><path d="M1203 827L1351 213"/><path d="M1203 827L1351 269"/><path d="M1203 827L1351 326"/><path d="M1203 827L1351 383"/><path d="M1203 827L1351 440"/><path d="M1203 827L1351 496"/><path d="M1203 827L1351 553"/><path d="M1203 827L1351 610"/><path d="M1203 827L1351 667"/><path d="M1203 827L1351 723"/><path d="M1203 827L1351 780"/><path d="M1203 827L1351 837"/><path d="M1203 827L1351 894"/><path d="M1203 827L1351 950"/><path d="M1203 827L1351 1007"/>
<path d="M1203 873L1351 99"/><path d="M1203 873L1351 156"/><path d="M1203 873L1351 213"/><path d="M1203 873L1351 269"/><path d="M1203 873L1351 326"/><path d="M1203 873L1351 383"/><path d="M1203 873L1351 440"/><path d="M1203 873L1351 496"/><path d="M1203 873L1351 553"/><path d="M1203 873L1351 610"/><path d="M1203 873L1351 667"/><path d="M1203 873L1351 723"/><path d="M1203 873L1351 780"/><path d="M1203 873L1351 837"/><path d="M1203 873L1351 894"/><path d="M1203 873L1351 950"/><path d="M1203 873L1351 1007"/>
<path d="M1203 918L1351 99"/><path d="M1203 918L1351 156"/><path d="M1203 918L1351 213"/><path d="M1203 918L1351 269"/><path d="M1203 918L1351 326"/><path d="M1203 918L1351 383"/><path d="M1203 918L1351 440"/><path d="M1203 918L1351 496"/><path d="M1203 918L1351 553"/><path d="M1203 918L1351 610"/><path d="M1203 918L1351 667"/><path d="M1203 918L1351 723"/><path d="M1203 918L1351 780"/><path d="M1203 918L1351 837"/><path d="M1203 918L1351 894"/><path d="M1203 918L1351 950"/><path d="M1203 918L1351 1007"/>
<path d="M1203 964L1351 99"/><path d="M1203 964L1351 156"/><path d="M1203 964L1351 213"/><path d="M1203 964L1351 269"/><path d="M1203 964L1351 326"/><path d="M1203 964L1351 383"/><path d="M1203 964L1351 440"/><path d="M1203 964L1351 496"/><path d="M1203 964L1351 553"/><path d="M1203 964L1351 610"/><path d="M1203 964L1351 667"/><path d="M1203 964L1351 723"/><path d="M1203 964L1351 780"/><path d="M1203 964L1351 837"/><path d="M1203 964L1351 894"/><path d="M1203 964L1351 950"/><path d="M1203 964L1351 1007"/>
<path d="M1203 1010L1351 99"/><path d="M1203 1010L1351 156"/><path d="M1203 1010L1351 213"/><path d="M1203 1010L1351 269"/><path d="M1203 1010L1351 326"/><path d="M1203 1010L1351 383"/><path d="M1203 1010L1351 440"/><path d="M1203 1010L1351 496"/><path d="M1203 1010L1351 553"/><path d="M1203 1010L1351 610"/><path d="M1203 1010L1351 667"/><path d="M1203 1010L1351 723"/><path d="M1203 1010L1351 780"/><path d="M1203 1010L1351 837"/><path d="M1203 1010L1351 894"/><path d="M1203 1010L1351 950"/><path d="M1203 1010L1351 1007"/>
<path d="M1351 99L1499 348"/><path d="M1351 99L1499 553"/><path d="M1351 99L1499 758"/>
<path d="M1351 156L1499 348"/><path d="M1351 156L1499 553"/><path d="M1351 156L1499 758"/>
<path d="M1351 213L1499 348"/><path d="M1351 213L1499 553"/><path d="M1351 213L1499 758"/>
<path d="M1351 269L1499 348"/><path d="M1351 269L1499 553"/><path d="M1351 269L1499 758"/>
<path d="M1351 326L1499 348"/><path d="M1351 326L1499 553"/><path d="M1351 326L1499 758"/>
<path d="M1351 383L1499 348"/><path d="M1351 383L1499 553"/><path d="M1351 383L1499 758"/>
<path d="M1351 440L1499 348"/><path d="M1351 440L1499 553"/><path d="M1351 440L1499 758"/>
<path d="M1351 496L1499 348"/><path d="M1351 496L1499 553"/><path d="M1351 496L1499 758"/>
<path d="M1351 553L1499 348"/><path d="M1351 553L1499 553"/><path d="M1351 553L1499 758"/>
<path d="M1351 610L1499 348"/><path d="M1351 610L1499 553"/><path d="M1351 610L1499 758"/>
<path d="M1351 667L1499 348"/><path d="M1351 667L1499 553"/><path d="M1351 667L1499 758"/>
<path d="M1351 723L1499 348"/><path d="M1351 723L1499 553"/><path d="M1351 723L1499 758"/>
<path d="M1351 780L1499 348"/><path d="M1351 780L1499 553"/><path d="M1351 780L1499 758"/>
<path d="M1351 837L1499 348"/><path d="M1351 837L1499 553"/><path d="M1351 837L1499 758"/>
<path d="M1351 894L1499 348"/><path d="M1351 894L1499 553"/><path d="M1351 894L1499 758"/>
<path d="M1351 950L1499 348"/><path d="M1351 950L1499 553"/><path d="M1351 950L1499 758"/>
<path d="M1351 1007L1499 348"/><path d="M1351 1007L1499 553"/><path d="M1351 1007L1499 758"/>
</g>
<g id="nodes" class="n">
<g id="m"><circle cx="30" cy="553" r="20.5"/><text x="30" y="560" style="font-size:22px">m</text></g>
<g id="a021"><circle cx="177" cy="242" r="20.5"/><text x="177" y="250">a<tspan class="s" dy="3">021</tspan></text></g>
<g id="a022"><circle cx="177" cy="346" r="20.5"/><text x="177" y="354">a<tspan class="s" dy="3">022</tspan></text></g>
<g id="a023"><circle cx="177" cy="449" r="20.5"/><text x="177" y="457">a<tspan class="s" dy="3">023</tspan></text></g>
<g id="a024"><circle cx="177" cy="553" r="20.5"/><text x="177" y="561">a<tspan class="s" dy="3">024</tspan></text></g>
<g id="a025"><circle cx="177" cy="657" r="20.5"/><text x="177" y="665">a<tspan class="s" dy="3">025</tspan></text></g>
<g id="a026"><circle cx="177" cy="760" r="20.5"/><text x="177" y="768">a<tspan class="s" dy="3">026</tspan></text></g>
<g id="a029"><circle cx="177" cy="864" r="20.5"/><text x="177" y="872">a<tspan class="s" dy="3">029</tspan></text></g>
<g id="b21"><circle cx="321" cy="293" r="20.5"/><text x="321" y="301">b<tspan class="s" dy="3">21</tspan></text></g>
<g id="b22"><circle cx="321" cy="397" r="20.5"/><text x="321" y="405">b<tspan class="s" dy="3">22</tspan></text></g>
<g id="b23"><circle cx="321" cy="500" r="20.5"/><text x="321" y="508">b<tspan class="s" dy="3">23</tspan></text></g>
<g id="b24"><circle cx="321" cy="604" r="20.5"/><text x="321" y="612">b<tspan class="s" dy="3">24</tspan></text></g>
<g id="b25"><circle cx="321" cy="708" r="20.5"/><text x="321" y="716">b<tspan class="s" dy="3">25</tspan></text></g>
<g id="b29"><circle cx="321" cy="811" r="20.5"/><text x="321" y="819">b<tspan class="s" dy="3">29</tspan></text></g>
<g id="c0"><circle cx="467" cy="138" r="20.5"/><text x="467" y="146">c<tspan class="s" dy="3">0</tspan></text></g>
<g id="c1"><circle cx="467" cy="242" r="20.5"/><text x="467" y="250">c<tspan class="s" dy="3">1</tspan></text></g>
<g id="c2"><circle cx="467" cy="346" r="20.5"/><text x="467" y="354">c<tspan class="s" dy="3">2</tspan></text></g>
<g id="c3"><circle cx="467" cy="449" r="20.5"/><text x="467" y="457">c<tspan class="s" dy="3">3</tspan></text></g>
<g id="c4"><circle cx="467" cy="553" r="20.5"/><text x="467" y="561">c<tspan class="s" dy="3">4</tspan></text></g>
<g id="c5"><circle cx="467" cy="657" r="20.5"/><text x="467" y="665">c<tspan class="s" dy="3">5</tspan></text></g>
<g id="c6"><circle cx="467" cy="760" r="20.5"/><text x="467" y="768">c<tspan class="s" dy="3">6</tspan></text></g>
<g id="c7"><circle cx="467" cy="864" r="20.5"/><text x="467" y="872">c<tspan class="s" dy="3">7</tspan></text></g>
<g id="c9"><circle cx="467" cy="968" r="20.5"/><text x="467" y="976">c<tspan class="s" dy="3">9</tspan></text></g>
<g id="d00"><circle cx="616" cy="89" r="20.5"/><text x="616" y="97">d<tspan class="s" dy="3">00</tspan></text></g>
<g id="d01"><circle cx="616" cy="135" r="20.5"/><text x="616" y="143">d<tspan class="s" dy="3">01</tspan></text></g>
<g id="d02"><circle cx="616" cy="182" r="20.5"/><text x="616" y="190">d<tspan class="s" dy="3">02</tspan></text></g>
<g id="d03"><circle cx="616" cy="228" r="20.5"/><text x="616" y="236">d<tspan class="s" dy="3">03</tspan></text></g>
<g id="d04"><circle cx="616" cy="275" r="20.5"/><text x="616" y="283">d<tspan class="s" dy="3">04</tspan></text></g>
<g id="d05"><circle cx="616" cy="321" r="20.5"/><text x="616" y="329">d<tspan class="s" dy="3">05</tspan></text></g>
<g id="d06"><circle cx="616" cy="367" r="20.5"/><text x="616" y="375">d<tspan class="s" dy="3">06</tspan></text></g>
<g id="d07"><circle cx="616" cy="414" r="20.5"/><text x="616" y="422">d<tspan class="s" dy="3">07</tspan></text></g>
<g id="d09"><circle cx="616" cy="460" r="20.5"/><text x="616" y="468">d<tspan class="s" dy="3">09</tspan></text></g>
<g id="d10"><circle cx="616" cy="507" r="20.5"/><text x="616" y="515">d<tspan class="s" dy="3">10</tspan></text></g>
<g id="d11"><circle cx="616" cy="553" r="20.5"/><text x="616" y="561">d<tspan class="s" dy="3">11</tspan></text></g>
<g id="d12"><circle cx="616" cy="599" r="20.5"/><text x="616" y="607">d<tspan class="s" dy="3">12</tspan></text></g>
<g id="d13"><circle cx="616" cy="646" r="20.5"/><text x="616" y="654">d<tspan class="s" dy="3">13</tspan></text></g>
<g id="d14"><circle cx="616" cy="692" r="20.5"/><text x="616" y="700">d<tspan class="s" dy="3">14</tspan></text></g>
<g id="d15"><circle cx="616" cy="739" r="20.5"/><text x="616" y="747">d<tspan class="s" dy="3">15</tspan></text></g>
<g id="d16"><circle cx="616" cy="785" r="20.5"/><text x="616" y="793">d<tspan class="s" dy="3">16</tspan></text></g>
<g id="d17"><circle cx="616" cy="831" r="20.5"/><text x="616" y="839">d<tspan class="s" dy="3">17</tspan></text></g>
<g id="d18"><circle cx="616" cy="878" r="20.5"/><text x="616" y="886">d<tspan class="s" dy="3">18</tspan></text></g>
<g id="d19"><circle cx="616" cy="924" r="20.5"/><text x="616" y="932">d<tspan class="s" dy="3">19</tspan></text></g>
<g id="d20"><circle cx="616" cy="971" r="20.5"/><text x="616" y="979">d<tspan class="s" dy="3">20</tspan></text></g>
<g id="d99"><circle cx="616" cy="1017" r="20.5"/><text x="616" y="1025">d<tspan class="s" dy="3">99</tspan></text></g>
<g id="e0"><circle cx="762" cy="86" r="20.5"/><text x="762" y="94">e<tspan class="s" dy="3">0</tspan></text></g>
<g id="e1"><circle cx="762" cy="190" r="20.5"/><text x="762" y="198">e<tspan class="s" dy="3">1</tspan></text></g>
<g id="e2"><circle cx="762" cy="294" r="20.5"/><text x="762" y="302">e<tspan class="s" dy="3">2</tspan></text></g>
<g id="e3"><circle cx="762" cy="397" r="20.5"/><text x="762" y="405">e<tspan class="s" dy="3">3</tspan></text></g>
<g id="e4"><circle cx="762" cy="501" r="20.5"/><text x="762" y="509">e<tspan class="s" dy="3">4</tspan></text></g>
<g id="e5"><circle cx="762" cy="605" r="20.5"/><text x="762" y="613">e<tspan class="s" dy="3">5</tspan></text></g>
<g id="e6"><circle cx="762" cy="709" r="20.5"/><text x="762" y="717">e<tspan class="s" dy="3">6</tspan></text></g>
<g id="e7"><circle cx="762" cy="813" r="20.5"/><text x="762" y="821">e<tspan class="s" dy="3">7</tspan></text></g>
<g id="e8"><circle cx="762" cy="916" r="20.5"/><text x="762" y="924">e<tspan class="s" dy="3">8</tspan></text></g>
<g id="e9"><circle cx="762" cy="1020" r="20.5"/><text x="762" y="1028">e<tspan class="s" dy="3">9</tspan></text></g>
<g id="f00"><circle cx="909" cy="89" r="20.5"/><text x="909" y="97">f<tspan class="s" dy="3">00</tspan></text></g>
<g id="f01"><circle cx="909" cy="135" r="20.5"/><text x="909" y="143">f<tspan class="s" dy="3">01</tspan></text></g>
<g id="f02"><circle cx="909" cy="182" r="20.5"/><text x="909" y="190">f<tspan class="s" dy="3">02</tspan></text></g>
<g id="f03"><circle cx="909" cy="228" r="20.5"/><text x="909" y="236">f<tspan class="s" dy="3">03</tspan></text></g>
<g id="f04"><circle cx="909" cy="275" r="20.5"/><text x="909" y="283">f<tspan class="s" dy="3">04</tspan></text></g>
<g id="f05"><circle cx="909" cy="321" r="20.5"/><text x="909" y="329">f<tspan class="s" dy="3">05</tspan></text></g>
<g id="f06"><circle cx="909" cy="367" r="20.5"/><text x="909" y="375">f<tspan class="s" dy="3">06</tspan></text></g>
<g id="f07"><circle cx="909" cy="414" r="20.5"/><text x="909" y="422">f<tspan class="s" dy="3">07</tspan></text></g>
<g id="f09"><circle cx="909" cy="460" r="20.5"/><text x="909" y="468">f<tspan class="s" dy="3">09</tspan></text></g>
<g id="f10"><circle cx="909" cy="507" r="20.5"/><text x="909" y="515">f<tspan class="s" dy="3">10</tspan></text></g>
<g id="f11"><circle cx="909" cy="553" r="20.5"/><text x="909" y="561">f<tspan class="s" dy="3">11</tspan></text></g>
<g id="f12"><circle cx="909" cy="599" r="20.5"/><text x="909" y="607">f<tspan class="s" dy="3">12</tspan></text></g>
<g id="f13"><circle cx="909" cy="646" r="20.5"/><text x="909" y="654">f<tspan class="s" dy="3">13</tspan></text></g>
<g id="f14"><circle cx="909" cy="692" r="20.5"/><text x="909" y="700">f<tspan class="s" dy="3">14</tspan></text></g>
<g id="f15"><circle cx="909" cy="739" r="20.5"/><text x="909" y="747">f<tspan class="s" dy="3">15</tspan></text></g>
<g id="f16"><circle cx="909" cy="785" r="20.5"/><text x="909" y="793">f<tspan class="s" dy="3">16</tspan></text></g>
<g id="f17"><circle cx="909" cy="831" r="20.5"/><text x="909" y="839">f<tspan class="s" dy="3">17</tspan></text></g>
<g id="f18"><circle cx="909" cy="878" r="20.5"/><text x="909" y="886">f<tspan class="s" dy="3">18</tspan></text></g>
<g id="f19"><circle cx="909" cy="924" r="20.5"/><text x="909" y="932">f<tspan class="s" dy="3">19</tspan></text></g>
<g id="f20"><circle cx="909" cy="971" r="20.5"/><text x="909" y="979">f<tspan class="s" dy="3">20</tspan></text></g>
<g id="f99"><circle cx="909" cy="1017" r="20.5"/><text x="909" y="1025">f<tspan class="s" dy="3">99</tspan></text></g>
<g id="g0"><circle cx="1054" cy="83" r="20.5"/><text x="1054" y="91">g<tspan class="s" dy="3">0</tspan></text></g>
<g id="g1"><circle cx="1054" cy="187" r="20.5"/><text x="1054" y="195">g<tspan class="s" dy="3">1</tspan></text></g>
<g id="g2"><circle cx="1054" cy="292" r="20.5"/><text x="1054" y="300">g<tspan class="s" dy="3">2</tspan></text></g>
<g id="g3"><circle cx="1054" cy="396" r="20.5"/><text x="1054" y="404">g<tspan class="s" dy="3">3</tspan></text></g>
<g id="g4"><circle cx="1054" cy="501" r="20.5"/><text x="1054" y="509">g<tspan class="s" dy="3">4</tspan></text></g>
<g id="g5"><circle cx="1054" cy="605" r="20.5"/><text x="1054" y="613">g<tspan class="s" dy="3">5</tspan></text></g>
<g id="g6"><circle cx="1054" cy="709" r="20.5"/><text x="1054" y="717">g<tspan class="s" dy="3">6</tspan></text></g>
<g id="g7"><circle cx="1054" cy="814" r="20.5"/><text x="1054" y="822">g<tspan class="s" dy="3">7</tspan></text></g>
<g id="g8"><circle cx="1054" cy="918" r="20.5"/><text x="1054" y="926">g<tspan class="s" dy="3">8</tspan></text></g>
<g id="g9"><circle cx="1054" cy="1023" r="20.5"/><text x="1054" y="1031">g<tspan class="s" dy="3">9</tspan></text></g>
<g id="h00"><circle cx="1203" cy="94" r="20.5"/><text x="1203" y="102">h<tspan class="s" dy="3">00</tspan></text></g>
<g id="h01"><circle cx="1203" cy="140" r="20.5"/><text x="1203" y="148">h<tspan class="s" dy="3">01</tspan></text></g>
<g id="h02"><circle cx="1203" cy="186" r="20.5"/><text x="1203" y="194">h<tspan class="s" dy="3">02</tspan></text></g>
<g id="h03"><circle cx="1203" cy="231" r="20.5"/><text x="1203" y="239">h<tspan class="s" dy="3">03</tspan></text></g>
<g id="h04"><circle cx="1203" cy="277" r="20.5"/><text x="1203" y="285">h<tspan class="s" dy="3">04</tspan></text></g>
<g id="h05"><circle cx="1203" cy="323" r="20.5"/><text x="1203" y="331">h<tspan class="s" dy="3">05</tspan></text></g>
<g id="h06"><circle cx="1203" cy="369" r="20.5"/><text x="1203" y="377">h<tspan class="s" dy="3">06</tspan></text></g>
<g id="h07"><circle cx="1203" cy="415" r="20.5"/><text x="1203" y="423">h<tspan class="s" dy="3">07</tspan></text></g>
<g id="h09"><circle cx="1203" cy="460" r="20.5"/><text x="1203" y="468">h<tspan class="s" dy="3">09</tspan></text></g>
<g id="h10"><circle cx="1203" cy="506" r="20.5"/><text x="1203" y="514">h<tspan class="s" dy="3">10</tspan></text></g>
<g id="h11"><circle cx="1203" cy="552" r="20.5"/><text x="1203" y="560">h<tspan class="s" dy="3">11</tspan></text></g>
<g id="h12"><circle cx="1203" cy="598" r="20.5"/><text x="1203" y="606">h<tspan class="s" dy="3">12</tspan></text></g>
<g id="h13"><circle cx="1203" cy="644" r="20.5"/><text x="1203" y="652">h<tspan class="s" dy="3">13</tspan></text></g>
<g id="h14"><circle cx="1203" cy="689" r="20.5"/><text x="1203" y="697">h<tspan class="s" dy="3">14</tspan></text></g>
<g id="h15"><circle cx="1203" cy="735" r="20.5"/><text x="1203" y="743">h<tspan class="s" dy="3">15</tspan></text></g>
<g id="h16"><circle cx="1203" cy="781" r="20.5"/><text x="1203" y="789">h<tspan class="s" dy="3">16</tspan></text></g>
<g id="h17"><circle cx="1203" cy="827" r="20.5"/><text x="1203" y="835">h<tspan class="s" dy="3">17</tspan></text></g>
<g id="h18"><circle cx="1203" cy="873" r="20.5"/><text x="1203" y="881">h<tspan class="s" dy="3">18</tspan></text></g>
<g id="h19"><circle cx="1203" cy="918" r="20.5"/><text x="1203" y="926">h<tspan class="s" dy="3">19</tspan></text></g>
<g id="h20"><circle cx="1203" cy="964" r="20.5"/><text x="1203" y="972">h<tspan class="s" dy="3">20</tspan></text></g>
<g id="h99"><circle cx="1203" cy="1010" r="20.5"/><text x="1203" y="1018">h<tspan class="s" dy="3">99</tspan></text></g>
<g id="u000"><circle cx="1351" cy="99" r="20.5"/><text x="1351" y="107">u<tspan class="s" dy="3">000</tspan></text></g>
<g id="u010"><circle cx="1351" cy="156" r="20.5"/><text x="1351" y="164">u<tspan class="s" dy="3">010</tspan></text></g>
<g id="u020"><circle cx="1351" cy="213" r="20.5"/><text x="1351" y="221">u<tspan class="s" dy="3">020</tspan></text></g>
<g id="u030"><circle cx="1351" cy="269" r="20.5"/><text x="1351" y="277">u<tspan class="s" dy="3">030</tspan></text></g>
<g id="u040"><circle cx="1351" cy="326" r="20.5"/><text x="1351" y="334">u<tspan class="s" dy="3">040</tspan></text></g>
<g id="u050"><circle cx="1351" cy="383" r="20.5"/><text x="1351" y="391">u<tspan class="s" dy="3">050</tspan></text></g>
<g id="u060"><circle cx="1351" cy="440" r="20.5"/><text x="1351" y="448">u<tspan class="s" dy="3">060</tspan></text></g>
<g id="u070"><circle cx="1351" cy="496" r="20.5"/><text x="1351" y="504">u<tspan class="s" dy="3">070</tspan></text></g>
<g id="u080"><circle cx="1351" cy="553" r="20.5"/><text x="1351" y="561">u<tspan class="s" dy="3">080</tspan></text></g>
<g id="u090"><circle cx="1351" cy="610" r="20.5"/><text x="1351" y="618">u<tspan class="s" dy="3">090</tspan></text></g>
<g id="u100"><circle cx="1351" cy="667" r="20.5"/><text x="1351" y="675">u<tspan class="s" dy="3">100</tspan></text></g>
<g id="u110"><circle cx="1351" cy="723" r="20.5"/><text x="1351" y="731">u<tspan class="s" dy="3">110</tspan></text></g>
<g id="u120"><circle cx="1351" cy="780" r="20.5"/><text x="1351" y="788">u<tspan class="s" dy="3">120</tspan></text></g>
<g id="u130"><circle cx="1351" cy="837" r="20.5"/><text x="1351" y="845">u<tspan class="s" dy="3">130</tspan></text></g>
<g id="u140"><circle cx="1351" cy="894" r="20.5"/><text x="1351" y="902">u<tspan class="s" dy="3">140</tspan></text></g>
<g id="u150"><circle cx="1351" cy="950" r="20.5"/><text x="1351" y="958">u<tspan class="s" dy="3">150</tspan></text></g>
<g id="u999"><circle cx="1351" cy="1007" r="20.5"/><text x="1351" y="1015">u<tspan class="s" dy="3">999</tspan></text></g>
<g id="r1"><circle cx="1499" cy="348" r="20.5"/><text x="1499" y="356">r<tspan class="s" dy="3">1</tspan></text></g>
<g id="r2"><circle cx="1499" cy="553" r="20.5"/><text x="1499" y="561">r<tspan class="s" dy="3">2</tspan></text></g>
<g id="r3"><circle cx="1499" cy="758" r="20.5"/><text x="1499" y="766">r<tspan class="s" dy="3">3</tspan></text></g>
</g>
</svg>
